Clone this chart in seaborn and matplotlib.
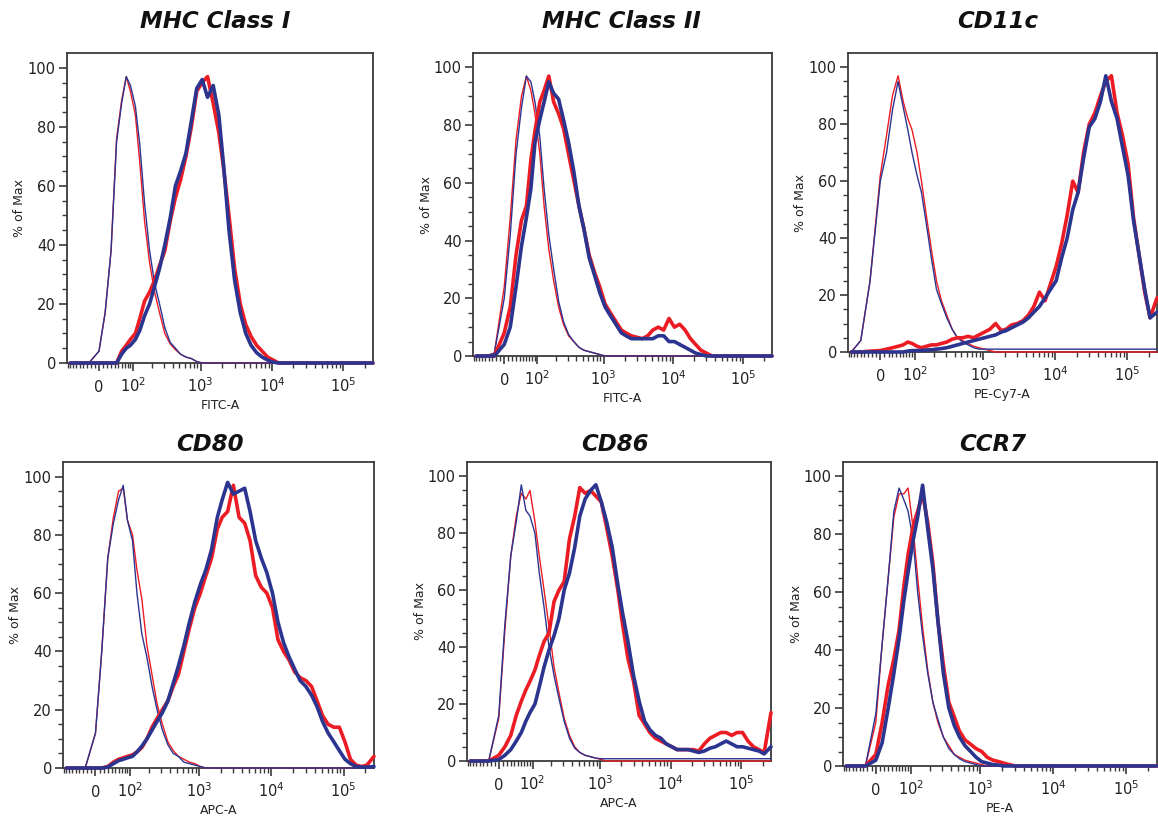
import numpy as np
import matplotlib
matplotlib.use("Agg")
import matplotlib.pyplot as plt
from matplotlib.ticker import FixedLocator
import seaborn as sns

# histogram channels (fluorescence intensity), shared by every panel
intensity = [-80, -50, -25, 0, 15, 30, 45, 60, 75, 90, 110, 130, 155, 185, 220, 260,
             310, 370, 440, 520, 620, 740, 880, 1050, 1250, 1500, 1800, 2100, 2500,
             3000, 3600, 4300, 5100, 6100, 7300, 8700, 10400, 12400, 14800, 17700,
             21000, 25000, 30000, 36000, 43000, 51000, 61000, 73000, 87000, 104000,
             124000, 148000, 177000, 210000, 262000]


def trace(start, vals):
    # curve, zero outside the listed channels
    y = np.zeros(len(intensity))
    i = intensity.index(start)
    y[i:i + len(vals)] = vals
    return y


# % of Max, iso = thin isotype traces, others = thick stained traces
mhc1_iso_red = trace(0, [4, 17, 38, 76, 89, 97, 92, 84, 68, 48, 34, 24, 17, 10, 6.5, 4.5, 3, 2, 1.5, 0.5, 0])
mhc1_iso_blue = trace(0, [4, 17, 38, 75, 88, 97, 94, 87, 74, 54, 38, 27, 20, 12, 7, 5, 3, 2, 1.5, 0.5, 0])
mhc1_red = trace(60, [4, 6, 8, 10, 15, 21, 24, 28, 33, 38, 48, 56, 62, 70, 80, 92, 95, 97, 88, 78,
                      66, 50, 32, 20, 13, 9, 6, 4, 2, 1, 0])
mhc1_blue = trace(60, [3, 5, 6, 8, 11, 16, 20, 26, 32, 40, 49, 60, 65, 71, 82, 93, 96, 90, 94, 84,
                       67, 45, 28, 17, 10, 6, 3.5, 2, 1, 0.3, 0])

mhc2_iso_red = trace(-25, [1, 24, 48, 75, 90, 97, 92, 84, 70, 52, 37, 26, 17, 11, 7, 5, 3, 2, 1.5, 1, 0.5, 0])
mhc2_iso_blue = trace(-25, [1, 20, 42, 70, 86, 97, 95, 88, 76, 58, 42, 30, 19, 12, 7.5, 5, 3, 2, 1.5, 1, 0.5, 0])
mhc2_red = trace(-25, [0, 8, 17, 35, 47, 52, 68, 78, 88, 92, 97, 88, 84, 79, 70, 61, 52, 44, 35, 29,
                       24, 18, 15, 12, 9, 8, 7, 6.5, 6, 7, 9, 10, 9, 13, 10, 11, 9, 6, 4, 2, 1, 0])
mhc2_blue = trace(-25, [0, 4, 10, 24, 38, 48, 58, 74, 82, 88, 95, 91, 89, 82, 74, 64, 52, 44, 34, 28,
                        22, 17, 14, 11, 8, 7, 6, 6, 6, 6, 6, 7, 7, 5, 5, 4, 3, 2, 1, 0.5, 0, 0])

cd11c_iso_red = trace(-50, [4, 25, 62, 76, 90, 97, 88, 82, 78, 70, 60, 48, 36, 25, 18, 13, 8, 5, 4, 3,
                            2, 1.5, 1, 0.5, 0])
cd11c_iso_blue = trace(-50, [4, 25, 60, 70, 85, 95, 86, 78, 70, 62, 56, 45, 33, 22, 17, 12, 8, 5, 3.5, 2.5,
                             1.5, 1] + [1] * 32)
cd11c_red = trace(-25, [0.3, 0.5, 1, 1.5, 2, 2.5, 3.5, 3, 2, 1.5, 2, 2.5, 2.5, 3, 3.5, 4.5, 5, 5, 5.5, 5,
                        6, 7, 8, 10, 7.5, 8, 9.5, 10, 11, 13, 16, 21, 18, 24, 30, 38, 48, 60, 56, 70,
                        80, 84, 90, 95, 97, 84, 76, 66, 47, 34, 21, 12, 19])
cd11c_blue = trace(75, [0.3, 0.5, 0.5, 0.5, 0.7, 0.8, 1, 1.2, 1.5, 2, 2.5, 3, 3.5, 4, 4.5, 5, 5.5, 6, 7, 7.5,
                        8.5, 9.5, 10.5, 12, 14, 16, 19, 22, 25, 33, 40, 50, 56, 68, 79, 82, 88, 97, 88, 82,
                        72, 62, 46, 34, 22, 12, 14])

cd80_iso_red = trace(-25, [0, 12, 40, 72, 86, 95, 96, 85, 80, 68, 58, 42, 32, 22, 15, 9, 6, 4, 3, 2, 1.5, 0.5, 0])
cd80_iso_blue = trace(-25, [0, 12, 40, 72, 84, 92, 97, 85, 78, 60, 46, 38, 28, 20, 13, 8, 5, 4, 2, 1.5, 1, 0.5, 0])
cd80_red = trace(15, [0, 0.5, 2, 3, 3.5, 4, 4.5, 5.5, 7, 10, 14, 17, 20, 23, 28, 32, 40, 48, 55, 60,
                      66, 72, 82, 86, 88, 97, 86, 84, 78, 66, 62, 60, 55, 44, 40, 37, 33, 31, 30, 28,
                      23, 18, 15, 14, 14, 9, 3, 1, 0.5, 1, 4])
cd80_blue = trace(15, [0, 0.3, 1.5, 2.5, 3, 3.5, 4, 5.5, 7.5, 10, 13, 16, 19, 23, 29, 35, 42, 50, 57, 63,
                       68, 75, 86, 92, 98, 94, 95, 96, 88, 78, 72, 67, 60, 50, 43, 38, 34, 30, 28, 25,
                       21, 16, 12, 9, 6, 3, 1.5, 0.5, 0.3, 0.3, 0.5])

cd86_iso_red = trace(-25, [0, 15, 46, 72, 86, 94, 92, 95, 84, 72, 60, 47, 33, 24, 15, 9, 5, 3, 2, 1.5, 1, 0.5, 0])
cd86_iso_blue = trace(-25, [0, 16, 48, 72, 84, 97, 88, 86, 80, 66, 54, 40, 30, 22, 14, 8, 4.5, 3, 2, 1.5,
                            1] + [0.8] * 32)
cd86_red = trace(-25, [0, 2, 5, 9, 16, 21, 25, 28, 32, 37, 42, 45, 56, 60, 63, 78, 86, 96, 94, 95,
                       93, 91, 82, 72, 60, 48, 36, 28, 16, 13, 10, 8, 7, 6, 5, 4, 4, 4, 4, 3.5,
                       6, 8, 9, 10, 10, 9, 10, 10, 7, 5, 4, 3, 17])
cd86_blue = trace(-25, [0, 0.5, 2, 4, 7, 10, 14, 17, 20, 26, 33, 39, 44, 50, 60, 66, 75, 86, 92, 95,
                        97, 91, 84, 75, 62, 52, 42, 30, 21, 14, 11, 9, 8, 6, 5, 4, 4, 4, 3.5, 3,
                        3.5, 4.5, 5, 6, 7, 6, 5, 5, 4.5, 4, 3.5, 2.5, 5])

ccr7_iso_red = trace(-25, [0, 15, 42, 65, 86, 94, 94, 96, 82, 65, 48, 33, 22, 15, 10, 7, 4, 3, 2, 1.5, 1, 0.5, 0])
ccr7_iso_blue = trace(-25, [0, 18, 42, 65, 88, 96, 92, 88, 78, 60, 45, 32, 22, 16, 10, 6, 4, 2.5, 1.5, 1, 0.5, 0])
ccr7_red = trace(-25, [0, 4, 15, 28, 37, 47, 62, 73, 83, 88, 94, 84, 70, 50, 35, 22, 17, 12, 9, 7.5,
                       6, 5, 3, 2, 1.5, 1, 0.5, 0])
ccr7_blue = trace(-25, [0, 2, 8, 20, 32, 44, 57, 67, 78, 86, 97, 82, 68, 50, 32, 20, 14, 10, 7, 5,
                        3, 1.5, 1, 0.5, 0.3, 0])

titles = ["MHC Class I", "MHC Class II", "CD11c", "CD80", "CD86", "CCR7"]
channels = ["FITC-A", "FITC-A", "PE-Cy7-A", "APC-A", "APC-A", "PE-A"]
curves = [
    (mhc1_iso_red, mhc1_iso_blue, mhc1_red, mhc1_blue),
    (mhc2_iso_red, mhc2_iso_blue, mhc2_red, mhc2_blue),
    (cd11c_iso_red, cd11c_iso_blue, cd11c_red, cd11c_blue),
    (cd80_iso_red, cd80_iso_blue, cd80_red, cd80_blue),
    (cd86_iso_red, cd86_iso_blue, cd86_red, cd86_blue),
    (ccr7_iso_red, ccr7_iso_blue, ccr7_red, ccr7_blue),
]
decade_ticks = [0, 1e2, 1e3, 1e4, 1e5]
decade_labels = ["0", r"$\mathregular{10^2}$", r"$\mathregular{10^3}$",
                 r"$\mathregular{10^4}$", r"$\mathregular{10^5}$"]

RED = "#ec1c24"
BLUE = "#2b3590"
GREY = "#3a3a3a"

# biexponential-like display axis
W = 75.0


def fwd(x):
    return np.arcsinh(np.asarray(x, dtype=float) / W) / np.log(10)


def inv(u):
    return W * np.sinh(np.asarray(u, dtype=float) * np.log(10))


minor_x = ([-v for v in range(10, 100, 10)] + list(range(10, 100, 10))
           + list(range(200, 1000, 100)) + list(range(2000, 10000, 1000))
           + list(range(20000, 100000, 10000)) + [200000])

# panel boxes in pixels: left, right, top, bottom
boxes = [(67, 373, 53, 363), (473, 772, 53, 356), (848, 1157, 53, 352),
         (63, 374, 462, 768), (467, 771, 462, 761), (843, 1157, 462, 766)]
title_xy = [(215, 21), (621, 21), (998, 21), (210, 444), (615, 444), (993, 444)]

sns.set_style("ticks")
plt.rcParams["font.family"] = ["DejaVu Sans"]

FW, FH = 1158, 817
fig = plt.figure(figsize=(FW / 100, FH / 100), dpi=100)

for k in range(6):
    l, r, t, b = boxes[k]
    ax = fig.add_axes([l / FW, 1 - b / FH, (r - l) / FW, (b - t) / FH])
    ax.set_xscale("function", functions=(fwd, inv))
    styles = [(RED, 1.0), (BLUE, 1.0), (RED, 2.6), (BLUE, 2.6)]
    for y, (c, lw) in zip(curves[k], styles):
        sns.lineplot(x=intensity, y=y, ax=ax, color=c, linewidth=lw,
                     estimator=None, sort=False, legend=False, clip_on=False, zorder=3)
    ax.set_xlim(-92, 262144)
    ax.set_ylim(0, 105)

    ax.set_xticks(decade_ticks)
    ax.set_xticklabels(decade_labels)
    ax.xaxis.set_minor_locator(FixedLocator(minor_x))
    ax.set_yticks([0, 20, 40, 60, 80, 100])
    ax.yaxis.set_minor_locator(FixedLocator([v for v in range(5, 100, 5) if v % 20]))
    for lab in ax.get_xticklabels():
        lab.set_verticalalignment("baseline")
    ax.tick_params(axis="x", which="major", length=6, width=1.2, color=GREY,
                   labelsize=10.5, labelcolor="#222222", pad=15)
    ax.tick_params(axis="y", which="major", length=6, width=1.2, color=GREY,
                   labelsize=10.5, labelcolor="#222222", pad=2)
    ax.tick_params(which="minor", length=3.5, width=1.0, color=GREY)

    for s in ax.spines.values():
        s.set_visible(True)
        s.set_color(GREY)
        s.set_linewidth(1.3)

    ax.set_xlabel(channels[k], fontsize=9, color="#222222", labelpad=3)
    ax.set_ylabel("% of Max", fontsize=9, color="#222222", labelpad=1)

    tx, ty = title_xy[k]
    fig.text(tx / FW, 1 - ty / FH, titles[k], ha="center", va="center",
             fontsize=16.5, fontweight="bold", fontstyle="italic", color="#111111")

fig.savefig("out.png", dpi=100)
